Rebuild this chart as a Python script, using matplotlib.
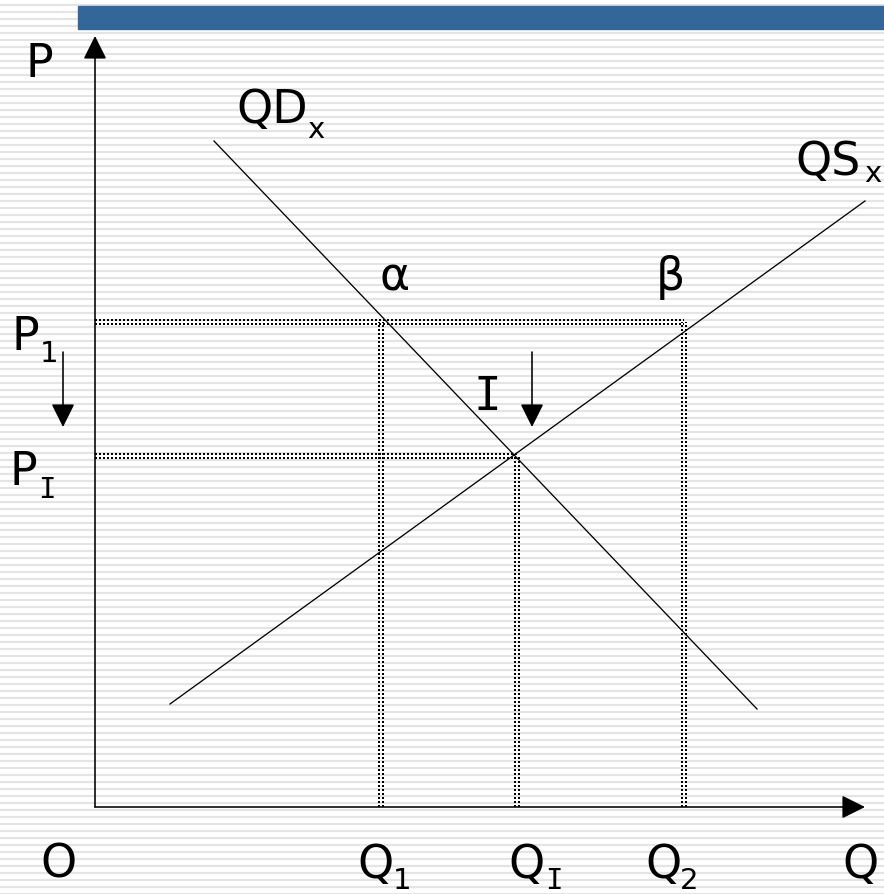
"""
Supply and demand diagram: price falls from P1 to the equilibrium PI.
"""

import numpy as np
import matplotlib
matplotlib.use("Agg")
import matplotlib.pyplot as plt
from matplotlib.patches import Rectangle

W, H, DPI = 884, 895, 100
PX = 72.0 / DPI  # points per pixel

# data (1 unit = 1 px, origin at the axes corner)
Q_LEVELS = [286, 422, 589]          # Q1, QI, Q2
P_LEVELS = [485, 351]               # P1, PI
DEMAND_Q = [119, 662]
DEMAND_P = [666, 98]
SUPPLY_Q = [75, 770]
SUPPLY_P = [103, 606]
AXIS_END_Q = 770
AXIS_END_P = 771
ARROW_Q = [-32, 437]                # the two "price falls" arrows
ARROW_P = [455, 380]

BLUE = "#336699"
STRIPE = "#e4e4e4"
FONT = "DejaVu Sans"
SERIF_I = "DejaVu Sans Mono"        # Verdana-like capital I with serifs
BIG = 33
SMALL = 21


def dotted_double(ax, xs, ys):
    """
    Two parallel dotted lines, like the chart's doubled dotted guides.
    """
    horizontal = ys[0] == ys[1]
    for off in (-2, 2):
        dx, dy = (0, off) if horizontal else (off, 0)
        ax.plot(
            [x + dx for x in xs], [y + dy for y in ys],
            color="black", lw=2 * PX, dashes=(1, 1),
            solid_capstyle="butt", dash_capstyle="butt", zorder=3,
        )


def arrow(ax, start, end):
    ax.annotate(
        "", xy=end, xytext=start,
        arrowprops=dict(
            arrowstyle=f"-|>,head_length={20 * PX},head_width={10 * PX}",
            mutation_scale=1, shrinkA=0, shrinkB=0,
            color="black", lw=1.6 * PX,
        ),
        zorder=5,
    )


def label(ax, x, y, text, size=BIG, family=FONT, **kw):
    ax.text(x, y, text, fontsize=size, family=family, color="black",
            ha=kw.pop("ha", "left"), va=kw.pop("va", "baseline"), zorder=6, **kw)


def main() -> None:
    fig = plt.figure(figsize=(W / DPI, H / DPI), dpi=DPI)

    # striped background
    bg = fig.add_axes([0, 0, 1, 1], zorder=0)
    bg.set_xlim(0, W)
    bg.set_ylim(H, 0)
    bg.axis("off")
    bg.hlines(np.arange(5.5, H, 7), 0, W, color=STRIPE, lw=2.2 * PX)

    ax = fig.add_axes([0, 0, 1, 1], zorder=1)
    ax.patch.set_alpha(0)
    ax.set_xlim(-95, W - 95)
    ax.set_ylim(-(H - 808), 808)
    ax.axis("off")

    # blue title bar
    ax.add_patch(Rectangle((-17, 778), W, 23, color=BLUE, zorder=2))

    # axes
    arrow(ax, (0, 0), (0, AXIS_END_P))
    arrow(ax, (0, 0), (AXIS_END_Q, 0))

    # curves
    ax.plot(DEMAND_Q, DEMAND_P, color="black", lw=1.3 * PX, zorder=4)
    ax.plot(SUPPLY_Q, SUPPLY_P, color="black", lw=1.3 * PX, zorder=4)

    # guide lines
    q1, qi, q2 = Q_LEVELS
    p1, pi = P_LEVELS
    dotted_double(ax, [0, q2], [p1, p1])
    dotted_double(ax, [0, qi], [pi, pi])
    dotted_double(ax, [q1, q1], [0, p1])
    dotted_double(ax, [qi, qi], [0, pi])
    dotted_double(ax, [q2, q2], [0, p1])

    # price falls
    for x in ARROW_Q:
        arrow(ax, (x, ARROW_P[0]), (x, ARROW_P[1]))

    # labels
    label(ax, -69, 731, "P")
    label(ax, 141, 685, "QD")
    label(ax, 212, 670, "x", SMALL)
    label(ax, 700, 633, "QS")
    label(ax, 769, 626, "x", SMALL)
    label(ax, 300, 530, "\u03b1", ha="center", va="center")
    label(ax, 575, 530, "\u03b2", ha="center", va="center")
    label(ax, 379, 398, "I", family=SERIF_I)
    label(ax, -83, 458, "P")
    label(ax, -55, 446, "1", SMALL)
    label(ax, -85, 323, "P")
    label(ax, -57, 310, "I", SMALL, family=SERIF_I)
    label(ax, -55, -70, "O")
    label(ax, 262, -70, "Q")
    label(ax, 298, -81, "1", SMALL)
    label(ax, 413, -70, "Q")
    label(ax, 450, -81, "I", SMALL, family=SERIF_I)
    label(ax, 550, -70, "Q")
    label(ax, 585, -81, "2", SMALL)
    label(ax, 747, -70, "Q")

    fig.savefig("out.png", dpi=DPI)


if __name__ == "__main__":
    main()
